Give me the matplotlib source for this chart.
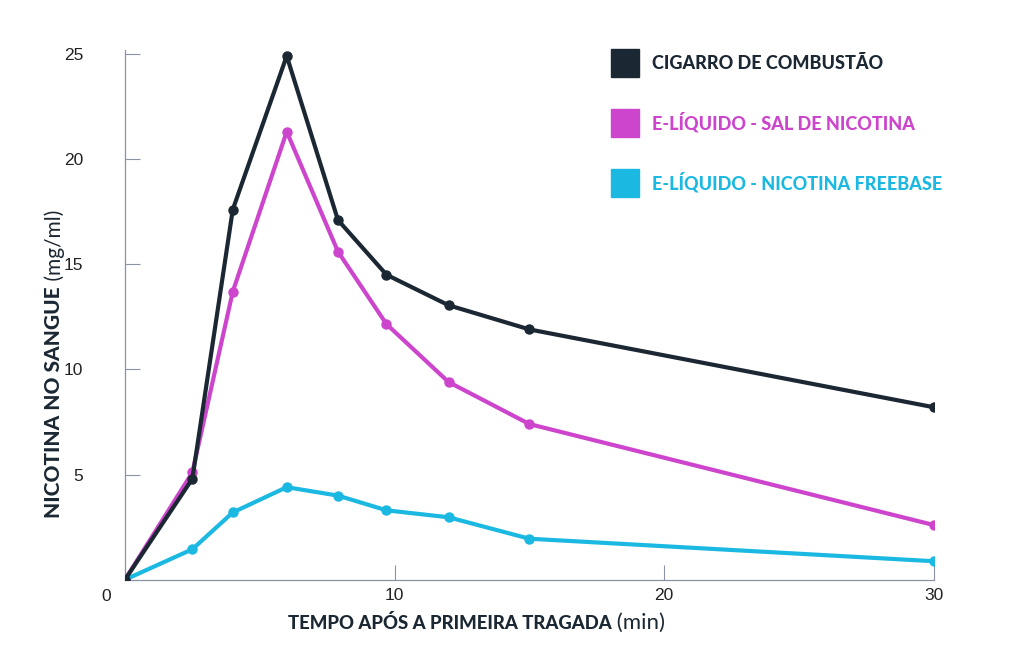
import matplotlib.pyplot as plt
from matplotlib.lines import Line2D

# minutes after the first puff
tempo = [0, 2.5, 4, 6, 7.9, 9.7, 12, 15, 30]

# blood nicotine (mg/ml)
cigarro = [0, 4.8, 17.6, 24.9, 17.1, 14.5, 13.05, 11.9, 8.2]
sal_nicotina = [0, 5.1, 13.7, 21.3, 15.6, 12.15, 9.4, 7.4, 2.6]
freebase = [0, 1.45, 3.2, 4.4, 4.0, 3.3, 2.97, 1.95, 0.88]

series_labels = [
    "CIGARRO DE COMBUSTÃO",
    "E-LÍQUIDO - SAL DE NICOTINA",
    "E-LÍQUIDO - NICOTINA FREEBASE",
]
y_ticks = [5, 10, 15, 20, 25]
x_ticks = [10, 20, 30]

C_BLACK = "#1b2833"
C_MAGENTA = "#cc45cc"
C_CYAN = "#1bb9e2"
C_AXIS = "#8a93a6"

plt.rcParams["font.family"] = ["Lato", "DejaVu Sans"]

fig = plt.figure(figsize=(10.24, 6.71), dpi=100)
ax = fig.add_axes([0.122, 0.136, 0.790, 0.790])

ax.plot(tempo, freebase, color=C_CYAN, lw=3, marker="o", ms=6.5, zorder=3)
ax.plot(tempo, sal_nicotina, color=C_MAGENTA, lw=3, marker="o", ms=6.5, zorder=4)
ax.plot(tempo, cigarro, color=C_BLACK, lw=3, marker="o", ms=6.5, zorder=5)

ax.set_xlim(0, 30)
ax.set_ylim(0, 25.2)
for side in ("top", "right"):
    ax.spines[side].set_visible(False)
for side in ("left", "bottom"):
    ax.spines[side].set_color(C_AXIS)
    ax.spines[side].set_linewidth(0.9)
    ax.spines[side].set_zorder(1)

ax.set_yticks(y_ticks)
ax.set_xticks(x_ticks)
ax.tick_params(direction="in", length=11, width=0.8, color=C_AXIS,
               labelsize=12.5, labelcolor="#222222")
ax.tick_params(axis="y", pad=30)
ax.tick_params(axis="x", pad=6)
for lbl in ax.get_xticklabels() + ax.get_yticklabels():
    lbl.set_family(["Liberation Sans", "DejaVu Sans"])
ax.text(-0.5, -0.45, "0", transform=ax.transData, ha="right", va="top",
        fontsize=12.5, color="#222222", family=["Liberation Sans"],
        clip_on=False)

# axis titles: bold part + regular units
xt = fig.text(0.281, 0.062, "TEMPO APÓS A PRIMEIRA TRAGADA", fontsize=13.3,
              fontweight="black", color=C_BLACK, ha="left", va="baseline")
ax.annotate(" (min)", xy=(1, 0), xycoords=xt, ha="left", va="bottom",
            fontsize=16, color=C_BLACK)

yt = fig.text(0.043, 0.228, "NICOTINA NO SANGUE", fontsize=15, rotation=90,
              fontweight="black", color=C_BLACK, ha="left", va="bottom")
ax.annotate(" (mg/ml)", xy=(0, 1), xycoords=yt, ha="left", va="bottom",
            rotation=90, fontsize=15, color=C_BLACK)

handles = [
    Line2D([], [], ls="none", marker="s", ms=20, color=c)
    for c in (C_BLACK, C_MAGENTA, C_CYAN)
]
leg = ax.legend(handles, series_labels, loc="upper left",
                bbox_to_anchor=(0.585, 1.02), frameon=False,
                handlelength=1.2, handletextpad=0.9, labelspacing=2.2,
                prop={"size": 13, "weight": "black"})
for txt, c in zip(leg.get_texts(), (C_BLACK, C_MAGENTA, C_CYAN)):
    txt.set_color(c)

fig.savefig("out.png", dpi=100)
